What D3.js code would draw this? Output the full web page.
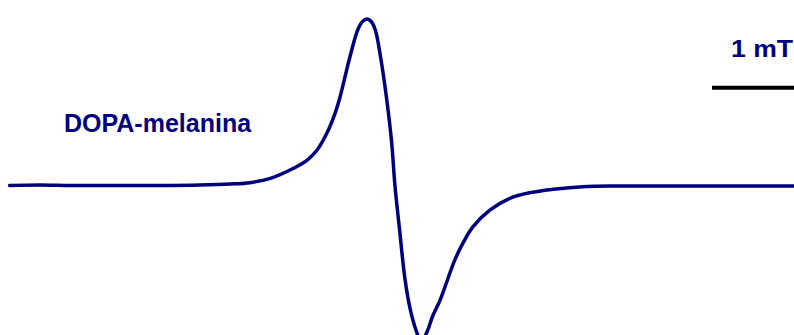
<!DOCTYPE html>
<html>
<head>
<meta charset="utf-8">
<script src="https://cdn.jsdelivr.net/npm/d3@7/dist/d3.min.js"></script>
<style>
  html, body { margin: 0; padding: 0; background: #fff; }
  svg { display: block; }
</style>
</head>
<body>
<svg id="chart" width="794" height="335"></svg>
<script>
// EPR first-derivative spectrum of DOPA-melanin
// field offset from the line centre (mT)
const field = [
  -4.70, -4.33, -3.96, -3.60, -2.87, -2.38, -2.01, -1.77, -1.52, -1.28,
  -1.07, -0.95, -0.83, -0.73, -0.67, -0.55, -0.45, -0.39, -0.34, -0.29,
  -0.24, -0.18, -0.10, -0.04, 0.00, 0.06, 0.12, 0.18, 0.26, 0.32,
  0.39, 0.46, 0.55, 0.73, 0.83, 0.95, 1.16, 1.40, 1.65, 1.93,
  2.29, 2.74, 3.72, 4.87
];
// derivative signal (normalised to the positive peak)
const signal = [
  0.000, 0.003, 0.000, 0.000, 0.000, 0.003, 0.009, 0.017, 0.043, 0.093,
  0.153, 0.213, 0.315, 0.435, 0.532, 0.772, 0.940, 0.988, 1.000, 0.985,
  0.934, 0.784, 0.514, 0.255, -0.003, -0.285, -0.556, -0.730, -0.874, -0.940,
  -0.880, -0.784, -0.688, -0.447, -0.345, -0.249, -0.147, -0.077, -0.043, -0.023,
  -0.007, -0.003, -0.003, -0.003
];
const sampleLabel = "DOPA-melanina";
const scaleBarLabel = "1 mT";
const scaleBarLength = 1; // mT

const svg = d3.select("#chart");
const navy = "#00007f";

const x = d3.scaleLinear().domain([-4.817, 4.866]).range([0, 794]);
const y = d3.scaleLinear().domain([-1, 1]).range([352, 19]);

const pts = field.map((f, i) => [f, signal[i]]);

svg.append("path")
  .datum(pts)
  .attr("fill", "none")
  .attr("stroke", navy)
  .attr("stroke-width", 3.5)
  .attr("stroke-linejoin", "round")
  .attr("stroke-linecap", "round")
  .attr("d", d3.line().x(d => x(d[0])).y(d => y(d[1])).curve(d3.curveCatmullRom.alpha(0.5)));

svg.append("text")
  .attr("x", 64)
  .attr("y", 132)
  .attr("fill", navy)
  .style("font-family", "'Liberation Sans', Arial, sans-serif")
  .style("font-weight", "bold")
  .style("font-size", "25px")
  .text(sampleLabel);

// scale bar
const barEnd = 4.866;
svg.append("line")
  .attr("x1", x(barEnd - scaleBarLength))
  .attr("x2", x(barEnd) + 2)
  .attr("y1", 87.8)
  .attr("y2", 87.8)
  .attr("stroke", "#000")
  .attr("stroke-width", 4);

svg.append("text")
  .attr("x", 731)
  .attr("y", 57)
  .attr("fill", navy)
  .attr("textLength", 62)
  .attr("lengthAdjust", "spacingAndGlyphs")
  .style("font-family", "'Liberation Sans', Arial, sans-serif")
  .style("font-weight", "bold")
  .style("font-size", "23px")
  .text(scaleBarLabel);
</script>
</body>
</html>
